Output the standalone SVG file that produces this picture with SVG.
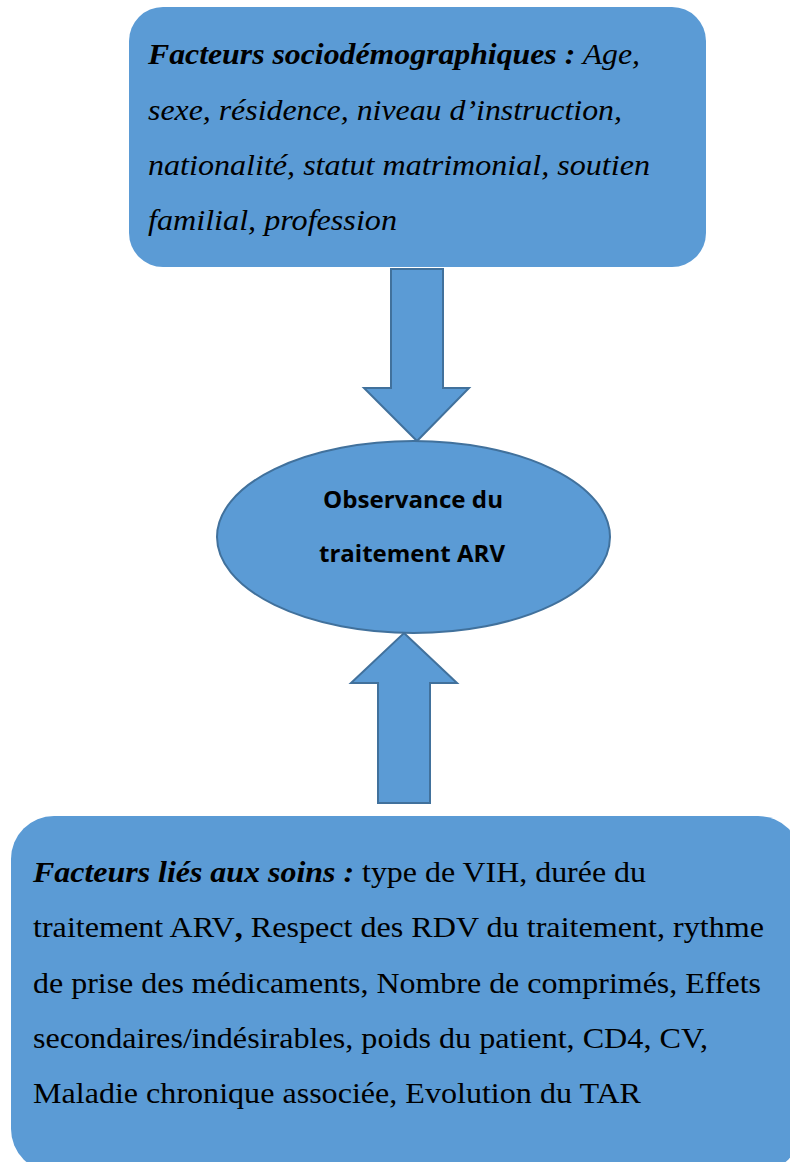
<svg xmlns="http://www.w3.org/2000/svg" width="790" height="1162" viewBox="0 0 790 1162">
<style>
.box{fill:#5B9BD5;stroke:none}
.shape{fill:#5B9BD5;stroke:#41719C;stroke-width:2;stroke-linejoin:miter}
.ser{font-family:"Liberation Serif","Times New Roman",serif;font-size:30px;fill:#000}
.it{font-style:italic}
.bi{font-style:italic;font-weight:bold}
.b{font-weight:bold}
.lab{font-family:"Open Sans",Lato,"Liberation Sans",sans-serif;font-size:23px;font-weight:bold;fill:#000}
</style>
<rect width="790" height="1162" fill="#fff"/>
<g id="node-sociodemo">
<rect class="box" x="129" y="7" width="577" height="260" rx="34" ry="34"/>
<text class="ser it" x="148" y="64" textLength="492" lengthAdjust="spacingAndGlyphs"><tspan class="bi">Facteurs sociodémographiques :</tspan> Age,</text>
<text class="ser it" x="148" y="120" textLength="474" lengthAdjust="spacingAndGlyphs">sexe, résidence, niveau d’instruction,</text>
<text class="ser it" x="148" y="175" textLength="502" lengthAdjust="spacingAndGlyphs">nationalité, statut matrimonial, soutien</text>
<text class="ser it" x="148" y="230" textLength="249" lengthAdjust="spacingAndGlyphs">familial, profession</text>
</g>
<g id="connectors">
<polygon class="shape" points="391,269 443,269 443,388 469,388 417,441 364,388 391,388"/>
<polygon class="shape" points="404,633 457,683 430,683 430,803 378,803 378,683 351,683"/>
</g>
<g id="node-observance">
<ellipse class="shape" cx="413.5" cy="537" rx="196.5" ry="96"/>
<text class="lab" x="413" y="508" text-anchor="middle" textLength="180" lengthAdjust="spacingAndGlyphs">Observance du</text>
<text class="lab" x="412" y="562" text-anchor="middle" textLength="186" lengthAdjust="spacingAndGlyphs">traitement ARV</text>
</g>
<g id="node-soins">
<rect class="box" x="11" y="816" width="790" height="356" rx="43" ry="43"/>
<text class="ser" x="33" y="882" textLength="613" lengthAdjust="spacingAndGlyphs"><tspan class="bi">Facteurs liés aux soins :</tspan> type de VIH, durée du</text>
<text class="ser" x="33" y="937" textLength="731" lengthAdjust="spacingAndGlyphs">traitement ARV<tspan class="b">,</tspan> Respect des RDV du traitement, rythme</text>
<text class="ser" x="33" y="993" textLength="728" lengthAdjust="spacingAndGlyphs">de prise des médicaments, Nombre de comprimés, Effets</text>
<text class="ser" x="33" y="1048" textLength="675" lengthAdjust="spacingAndGlyphs">secondaires/indésirables, poids du patient, CD4, CV,</text>
<text class="ser" x="33" y="1103" textLength="608" lengthAdjust="spacingAndGlyphs">Maladie chronique associée, Evolution du TAR</text>
</g>
</svg>
